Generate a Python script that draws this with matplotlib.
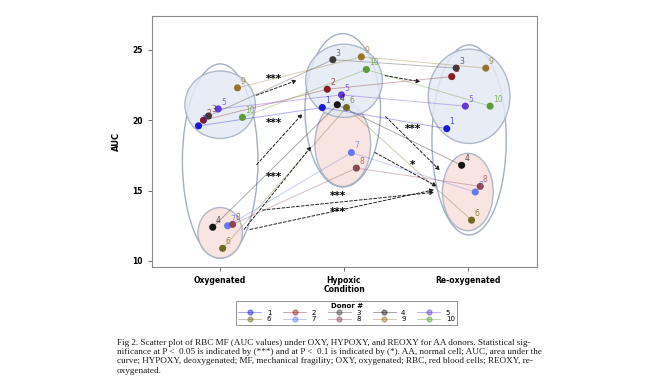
import matplotlib.pyplot as plt
from matplotlib.patches import Ellipse
from matplotlib.lines import Line2D

conditions = ['Oxygenated', 'Hypoxic', 'Re-oxygenated']
donors = ['1', '2', '3', '4', '5', '6', '7', '8', '9', '10']
colors = ['#1a1ad0', '#8b1c22', '#3c3c3c', '#141414', '#6538d8',
          '#6e6a22', '#6478f0', '#8a4656', '#96752a', '#5e9a3a']

# x position (jittered around condition) and AUC value per donor
oxy_x = [0.825, 0.865, 0.906, 0.94, 0.984, 1.02, 1.06, 1.10, 1.14, 1.18]
oxy_auc = [19.6, 20.0, 20.3, 12.4, 20.8, 10.9, 12.5, 12.6, 22.3, 20.2]
hyp_x = [1.825, 1.865, 1.91, 1.946, 1.98, 2.02, 2.06, 2.10, 2.14, 2.18]
hyp_auc = [20.9, 22.2, 24.3, 21.1, 21.8, 20.9, 17.7, 16.6, 24.5, 23.6]
reo_x = [2.83, 2.87, 2.906, 2.95, 2.98, 3.03, 3.06, 3.10, 3.145, 3.18]
reo_auc = [19.4, 23.1, 23.7, 16.8, 21.0, 12.9, 14.9, 15.3, 23.7, 21.0]

# grouping ellipses: (x, y, width, height, fill)
ellipses = [
    (1.0, 17.1, 0.61, 13.8, 'none'),
    (1.0, 21.1, 0.57, 4.8, '#e3e9f4'),
    (1.0, 12.0, 0.36, 3.6, '#f7e0db'),
    (1.99, 20.7, 0.61, 10.9, 'none'),
    (1.99, 18.3, 0.45, 6.0, '#f7e0db'),
    (2.0, 22.8, 0.62, 5.2, '#e3e9f4'),
    (3.01, 18.6, 0.60, 13.5, 'none'),
    (3.01, 21.7, 0.66, 6.7, '#e3e9f4'),
    (3.0, 14.9, 0.41, 5.5, '#f7e0db'),
]

# significance arrows: (x0, y0, x1, y1)
arrows = [
    (1.27, 21.7, 1.64, 22.9),
    (1.28, 16.7, 1.68, 20.6),
    (1.18, 12.1, 1.75, 18.3),
    (1.32, 13.6, 2.75, 14.9),
    (1.22, 12.2, 2.75, 15.1),
    (2.31, 23.2, 2.64, 22.7),
    (2.32, 20.4, 2.79, 16.3),
    (2.23, 17.8, 2.77, 15.2),
]
stars = [(1.43, 22.9, '***'), (1.43, 19.8, '***'), (1.43, 16.0, '***'),
         (1.95, 14.65, '***'), (1.95, 13.5, '***'), (2.56, 19.4, '***'),
         (2.55, 16.8, '*')]

fig = plt.figure(figsize=(6.64, 3.91), dpi=100)
ax = fig.add_axes([0.229, 0.317, 0.58, 0.642])

for x, y, w, h, fc in ellipses:
    ax.add_patch(Ellipse((x, y), w, h, facecolor=fc, edgecolor='#a3afc2',
                         lw=1.0, alpha=0.85 if fc != 'none' else 1, zorder=1))

for i in range(len(donors)):
    ax.plot([oxy_x[i], hyp_x[i], reo_x[i]], [oxy_auc[i], hyp_auc[i], reo_auc[i]],
            color=colors[i], lw=0.7, alpha=0.35, zorder=2)
    for xs, ys in [(oxy_x, oxy_auc), (hyp_x, hyp_auc), (reo_x, reo_auc)]:
        ax.scatter(xs[i], ys[i], s=26, color=colors[i], zorder=4, edgecolors='none')
        ax.annotate(donors[i], (xs[i], ys[i]), xytext=(2, 3), textcoords='offset points',
                    fontsize=5.5, color=colors[i], alpha=0.75, zorder=5)

for x0, y0, x1, y1 in arrows:
    ax.annotate('', xy=(x1, y1), xytext=(x0, y0),
                arrowprops=dict(arrowstyle='-|>', linestyle=(0, (3, 2)), lw=0.7,
                                color='#222222', mutation_scale=6), zorder=3)
for x, y, s in stars:
    ax.text(x, y, s, fontsize=7.5, fontweight='bold', ha='center', va='center', zorder=5)

ax.set_xlim(0.45, 3.56)
ax.set_ylim(9.57, 27.4)
ax.set_yticks([10, 15, 20, 25])
ax.set_xticks([1, 2, 3])
ax.set_xticklabels(['Oxygenated', 'Hypoxic', 'Re-oxygenated'])
ax.tick_params(labelsize=5.5, length=3, width=0.6, color='#555555')
for lab in ax.get_xticklabels() + ax.get_yticklabels():
    lab.set_fontweight('bold')
for sp in ax.spines.values():
    sp.set_color('#8a8a8a')
    sp.set_linewidth(0.8)
ax.set_ylabel('AUC', fontsize=6, fontweight='bold', labelpad=8)
ax.set_xlabel('Condition', fontsize=5.5, fontweight='bold', labelpad=0)

handles = [Line2D([0], [0], color=c, lw=0.6, alpha=0.45, marker='o', markersize=3.5,
                  markerfacecolor=c, markeredgecolor=c) for c in colors]
order = [0, 5, 1, 6, 2, 7, 3, 8, 4, 9]
leg = fig.legend([handles[k] for k in order], [donors[k] for k in order],
                 ncol=5, loc='center', bbox_to_anchor=(0.522, 0.2), fontsize=5,
                 title='Donor #', title_fontsize=5, frameon=True, fancybox=False,
                 handlelength=3.3, columnspacing=1.7, borderpad=0.3, labelspacing=0.1,
                 handletextpad=0.8, edgecolor='#777777')
leg.get_title().set_fontweight('bold')
leg.get_frame().set_linewidth(0.7)

caption = ("Fig 2. Scatter plot of RBC MF (AUC values) under OXY, HYPOXY, and REOXY for AA donors. Statistical sig-\n"
           "nificance at P <  0.05 is indicated by (***) and at P <  0.1 is indicated by (*). AA, normal cell; AUC, area under the\n"
           "curve; HYPOXY, deoxygenated; MF, mechanical fragility; OXY, oxygenated; RBC, red blood cells; REOXY, re-\n"
           "oxygenated.")
fig.text(0.176, 0.133, caption, fontsize=6.55, family='Liberation Serif', va='top',
         ha='left', linespacing=1.2, color='#1a1a1a')

fig.savefig('out.png', dpi=100)
